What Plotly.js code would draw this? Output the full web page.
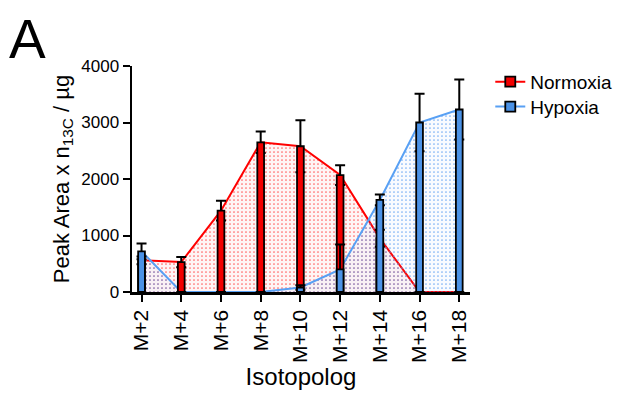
<!DOCTYPE html>
<html><head><meta charset="utf-8">
<script src="https://cdn.plot.ly/plotly-3.0.1.min.js"></script>
<style>html,body{margin:0;padding:0;background:#fff}#chart{width:629px;height:394px}</style>
</head><body><div id="chart"></div>
<script>
const categories = ["M+2","M+4","M+6","M+8","M+10","M+12","M+14","M+16","M+18"];
const normoxia = [560, 530, 1440, 2650, 2580, 2070, 950, 0, 0];
const normoxiaErr = [70, 90, 175, 190, 460, 175, 150, 0, 0];
const hypoxia = [720, 0, 0, 0, 80, 400, 1630, 3000, 3230];
const hypoxiaErr = [140, 0, 0, 0, 40, 440, 95, 510, 530];
const yTicks = [0, 1000, 2000, 3000, 4000];

const RED = '#ff0000', RED_BAR = '#f20000';
const BLUE = '#58a0f4', BLUE_BAR = '#4b92e6';
const FONT = 'Liberation Sans, Arial, sans-serif';
const xr = [-0.24, 8.27], yr = [0, 4000];

function errTrace(vals, errs, xa, ya) {
  return {x: categories, y: vals, xaxis: xa, yaxis: ya, type: 'scatter', mode: 'markers',
    marker: {size: 1, color: 'rgba(0,0,0,0)'}, showlegend: false, hoverinfo: 'skip',
    error_y: {type: 'data', array: errs, symmetric: true, color: '#000', thickness: 2, width: 5}};
}
function barTrace(vals, color, xa, ya) {
  return {x: categories, y: vals, xaxis: xa, yaxis: ya, type: 'bar', width: 0.17,
    marker: {color: color, line: {color: '#000', width: 1.8}}, showlegend: false};
}

const traces = [
  {x: categories, y: normoxia, type: 'scatter', mode: 'lines', line: {color: RED, width: 2},
   fill: 'tozeroy', fillcolor: 'rgba(255,0,0,0.04)',
   fillpattern: {shape: '.', fgcolor: 'rgba(255,40,40,0.7)', bgcolor: 'rgba(255,0,0,0.04)', size: 4, solidity: 0.15},
   showlegend: false},
  {x: categories, y: hypoxia, type: 'scatter', mode: 'lines', line: {color: BLUE, width: 2},
   fill: 'tozeroy', fillcolor: 'rgba(90,160,240,0.04)',
   fillpattern: {shape: '.', fgcolor: 'rgba(80,150,240,0.75)', bgcolor: 'rgba(90,160,240,0.04)', size: 4, solidity: 0.15},
   showlegend: false},
  errTrace(normoxia, normoxiaErr, 'x', 'y'),
  barTrace(normoxia, RED_BAR, 'x2', 'y2'),
  errTrace(hypoxia, hypoxiaErr, 'x3', 'y3'),
  barTrace(hypoxia, BLUE_BAR, 'x4', 'y4'),
  {x: [null], y: [null], type: 'scatter', mode: 'lines+markers', name: 'Normoxia', legend: 'legend',
   line: {color: RED, width: 2}, marker: {symbol: 'square', size: 10, color: RED_BAR, line: {color: '#000', width: 1.8}}},
  {x: [null], y: [null], type: 'scatter', mode: 'lines+markers', name: 'Hypoxia', legend: 'legend2',
   line: {color: BLUE, width: 2}, marker: {symbol: 'square', size: 10, color: BLUE_BAR, line: {color: '#000', width: 1.8}}}
];

function hiddenX() { return {type: 'category', categoryorder: 'array', categoryarray: categories, range: xr, overlaying: 'x', visible: false, fixedrange: true}; }
function hiddenY() { return {range: yr, overlaying: 'y', visible: false, fixedrange: true}; }

const legendBase = {x: 1.06, xanchor: 'left', yanchor: 'middle', font: {size: 19, family: FONT}, bgcolor: 'rgba(0,0,0,0)'};

const layout = {
  width: 629, height: 394,
  margin: {l: 132, r: 156, t: 66, b: 102},
  paper_bgcolor: '#fff', plot_bgcolor: 'rgba(0,0,0,0)',
  font: {family: FONT, color: '#000'},
  barmode: 'overlay',
  xaxis: {type: 'category', categoryorder: 'array', categoryarray: categories, range: xr,
    showline: true, linecolor: '#000', linewidth: 2.5, ticks: 'outside', ticklen: 7, tickwidth: 2, tickcolor: '#000',
    showgrid: false, zeroline: false, tickangle: -90, tickfont: {size: 21, family: FONT},
    title: {text: 'Isotopolog', font: {size: 24, family: FONT}, standoff: 6}},
  yaxis: {range: yr, tickvals: yTicks, ticktext: yTicks.map(String),
    showline: true, linecolor: '#000', linewidth: 2.5, ticks: 'outside', ticklen: 7, tickwidth: 2, tickcolor: '#000',
    showgrid: false, zeroline: false, tickfont: {size: 17, family: FONT},
    title: {text: 'Peak Area x n<sub>13C</sub> / µg', font: {size: 22, family: FONT}, standoff: 6}},
  xaxis2: hiddenX(), yaxis2: hiddenY(),
  xaxis3: hiddenX(), yaxis3: hiddenY(),
  xaxis4: hiddenX(), yaxis4: hiddenY(),
  showlegend: true,
  legend: Object.assign({}, legendBase, {y: 0.93}),
  legend2: Object.assign({}, legendBase, {y: 0.82}),
  annotations: [{text: 'A', xref: 'paper', yref: 'paper', x: -0.37, y: 1.265, xanchor: 'left', yanchor: 'top',
    showarrow: false, font: {size: 55, family: FONT, color: '#000'}}]
};

Plotly.newPlot('chart', traces, layout, {staticPlot: true, displayModeBar: false});
</script></body></html>
